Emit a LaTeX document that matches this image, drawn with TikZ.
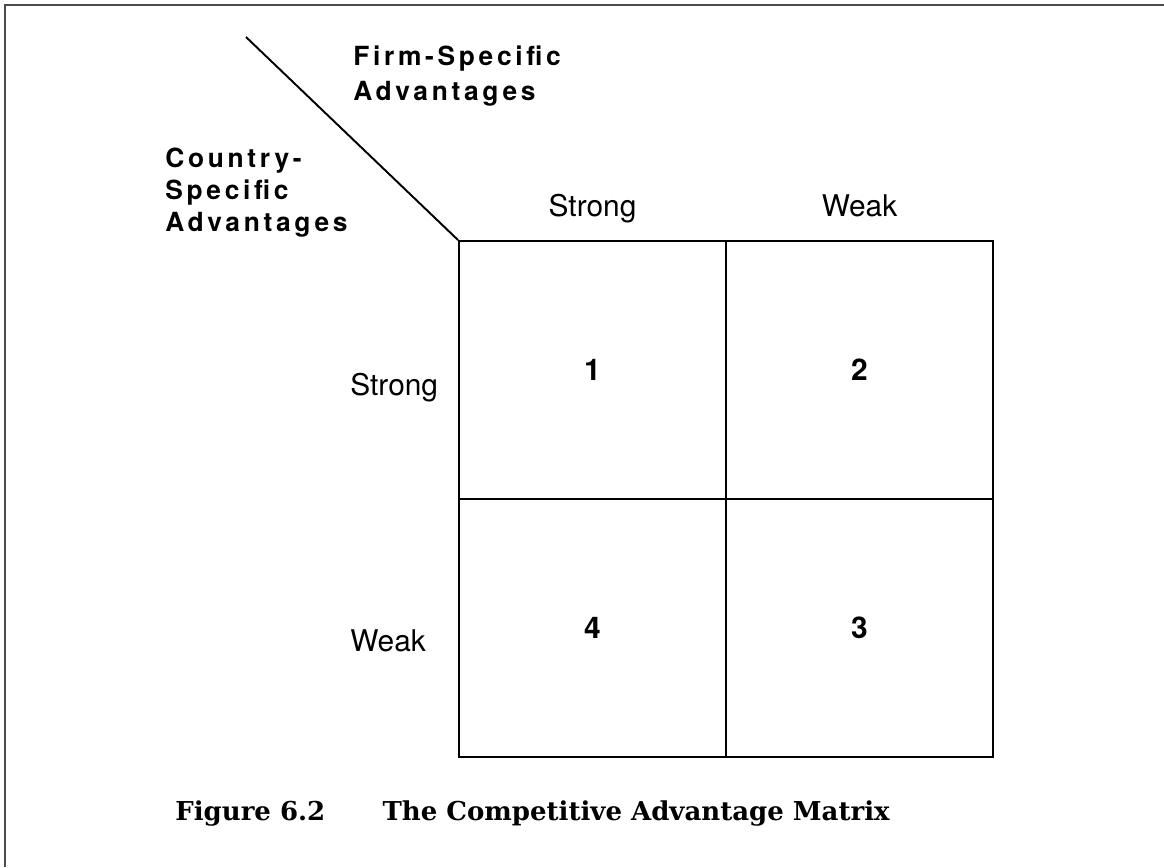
\documentclass[tikz,border=0pt]{standalone}
\usepackage{fontspec}
\setsansfont{TeX Gyre Heros}
\newfontfamily\headfont[LetterSpace=14]{TeX Gyre Heros}
\newfontfamily\capfont{DejaVu Serif}
\usetikzlibrary{positioning}
\begin{document}
\begin{tikzpicture}[x=0.02cm, y=-0.02cm,
  cell/.style={draw, line width=1.1pt, minimum width=5.34cm, minimum height=5.16cm, inner sep=0pt, font=\sffamily\bfseries\fontsize{17}{20}\selectfont},
  lbl/.style={inner sep=0pt, font=\sffamily\fontsize{17}{20}\selectfont},
  head/.style={inner sep=0pt, align=left, font=\headfont\bfseries\fontsize{15}{19.8}\selectfont}]

\useasboundingbox (0,0) rectangle (1164,867);
\draw[line width=1pt, black!70] (5,867) -- (5,5) -- (1164,5);

\node[cell] (c1) at (592.5,370) {1};
\node[cell] (c2) at (859.5,370) {2};
\node[cell] (c4) at (592.5,628) {4};
\node[cell] (c3) at (859.5,628) {3};

\coordinate (diag) at (246,37);
\draw[line width=1.1pt] (diag) -- (c1.north west);

\node[head, anchor=base west] (firm) at (353,100) {Firm-Specific\\Advantages};
\node[head, anchor=base west, font=\headfont\bfseries\fontsize{15}{18.2}\selectfont] (country) at (165,231) {Country-\\Specific\\Advantages};

\node[lbl, anchor=base] (colS) at ([yshift=0.48cm]c1.north) {Strong};
\node[lbl, anchor=base] (colW) at ([yshift=0.48cm]c2.north) {Weak};
\node[lbl, anchor=base west] (rowS) at (350,395) {Strong};
\node[lbl, anchor=base west] (rowW) at (350,651) {Weak};

\node[inner sep=0pt, anchor=base west, font=\capfont\bfseries\fontsize{14.8}{17}\selectfont] (cap) at (175,820) {Figure 6.2\hspace{2.2em}The Competitive Advantage Matrix};

\end{tikzpicture}
\end{document}
